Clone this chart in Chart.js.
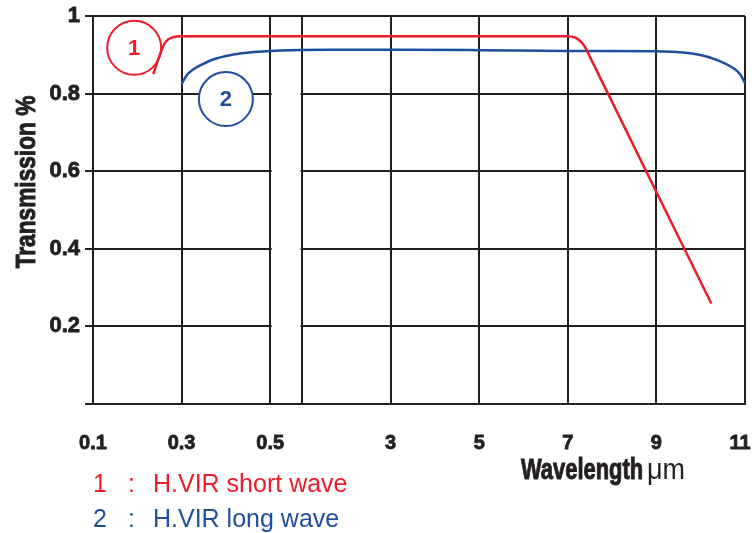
<!DOCTYPE html>
<html>
<head>
<meta charset="utf-8">
<script src="https://cdn.jsdelivr.net/npm/chart.js@4/dist/chart.umd.min.js"></script>
<style>
  html, body { margin: 0; padding: 0; background: #fff; }
  #wrap { width: 752px; height: 533px; }
</style>
</head>
<body>
<div id="wrap"><canvas id="myChart"></canvas></div>
<script>
// x axis: wavelength ticks (um) and the column they sit on (the 0.5 - 1 column is narrow)
var tickWl = [0.1, 0.3, 0.5, 1, 3, 5, 7, 9, 11];
var tickPos = [0, 1, 2, 2.36, 3.36, 4.36, 5.36, 6.36, 7.36];
var tickLabels = ['0.1', '0.3', '0.5', '', '3', '5', '7', '9', '11'];

// curve 1 : H.VIR short wave
var shortWl = [0.236, 0.251, 0.260, 0.269, 0.283, 0.30, 0.5, 3, 5, 6.98, 7.17, 7.30, 7.40, 7.51, 10.24];
var shortT  = [0.850, 0.900, 0.926, 0.939, 0.946, 0.948, 0.948, 0.948, 0.948, 0.948, 0.944, 0.933, 0.918, 0.892, 0.259];

// curve 2 : H.VIR long wave
var longWl = [0.30, 0.312, 0.326, 0.348, 0.371, 0.409, 0.447, 0.653, 1.63, 3.2, 5, 7, 9, 9.59, 9.97, 10.36, 10.73, 10.89, 11];
var longT  = [0.824, 0.848, 0.862, 0.876, 0.888, 0.899, 0.905, 0.911, 0.913, 0.913, 0.912, 0.910, 0.909, 0.906, 0.900, 0.887, 0.866, 0.850, 0.827];

// numbered callouts on the curves (wavelength, transmission)
var calloutNames = ['1', '2'];
var calloutWl = [0.193, 0.40];
var calloutT = [0.918, 0.786];

var legendNames = ['H.VIR short wave', 'H.VIR long wave'];

var RED = '#ec1c2b';
var BLUE = '#1f4f9c';
var INK = '#231f20';
var SANS = "'Liberation Sans', Arial, sans-serif";

function wlToPos(wl) {
    for (var i = 0; i < tickWl.length - 1; i++) {
        if (wl <= tickWl[i + 1]) {
            var f = (wl - tickWl[i]) / (tickWl[i + 1] - tickWl[i]);
            return tickPos[i] + f * (tickPos[i + 1] - tickPos[i]);
        }
    }
    return tickPos[tickPos.length - 1];
}

function toPoints(wls, ts) {
    return wls.map(function (w, i) { return { x: wlToPos(w), y: ts[i] }; });
}

var narrowColumn = {
    id: 'narrowColumn',
    beforeDatasetsDraw: function (chart) {
        var ctx = chart.ctx, xs = chart.scales.x, area = chart.chartArea;
        var x1 = xs.getPixelForValue(tickPos[2]) + 1.5;
        var x2 = xs.getPixelForValue(tickPos[3]) - 1.5;
        ctx.save();
        ctx.fillStyle = '#fff';
        ctx.fillRect(x1, area.top + 1.5, x2 - x1, area.bottom - area.top - 3);
        // callout circles
        var colors = [RED, BLUE];
        for (var i = 0; i < calloutNames.length; i++) {
            var cx = xs.getPixelForValue(wlToPos(calloutWl[i]));
            var cy = chart.scales.y.getPixelForValue(calloutT[i]);
            ctx.beginPath();
            ctx.arc(cx, cy, 27, 0, Math.PI * 2);
            ctx.fillStyle = '#fff';
            ctx.fill();
            ctx.lineWidth = 2;
            ctx.strokeStyle = colors[i];
            ctx.stroke();
            ctx.fillStyle = colors[i];
            ctx.font = 'bold 22px ' + SANS;
            ctx.textAlign = 'center';
            ctx.textBaseline = 'middle';
            ctx.fillText(calloutNames[i], cx, cy + 1);
        }
        ctx.restore();
    }
};

function heavyText(ctx, s, x, y) {
    ctx.lineWidth = 1;
    ctx.strokeStyle = ctx.fillStyle;
    ctx.strokeText(s, x, y);
    ctx.fillText(s, x, y);
}

var texts = {
    id: 'texts',
    afterDraw: function (chart) {
        var ctx = chart.ctx;
        // y title
        ctx.save();
        ctx.fillStyle = INK;
        ctx.translate(35, 182);
        ctx.rotate(-Math.PI / 2);
        ctx.scale(0.81, 1);
        ctx.font = 'bold 28px ' + SANS;
        ctx.textAlign = 'center';
        ctx.textBaseline = 'alphabetic';
        heavyText(ctx, 'Transmission %', 0, 0);
        ctx.restore();

        // x title
        ctx.save();
        ctx.fillStyle = INK;
        ctx.textAlign = 'left';
        ctx.textBaseline = 'alphabetic';
        ctx.translate(521, 479);
        ctx.scale(0.73, 1);
        ctx.font = 'bold 30px ' + SANS;
        heavyText(ctx, 'Wavelength', 0, 0);
        ctx.restore();
        ctx.save();
        ctx.fillStyle = INK;
        ctx.textAlign = 'left';
        ctx.textBaseline = 'alphabetic';
        ctx.translate(647, 479);
        ctx.scale(0.93, 1);
        ctx.font = '29px ' + SANS;
        ctx.fillText('\u03bcm', 0, 0);
        ctx.restore();

        // legend
        ctx.save();
        ctx.font = '25px ' + SANS;
        ctx.textBaseline = 'alphabetic';
        var colors = [RED, BLUE];
        var rows = [492, 527];
        for (var i = 0; i < legendNames.length; i++) {
            ctx.fillStyle = colors[i];
            ctx.fillText(calloutNames[i], 93, rows[i]);
            ctx.fillText(':', 128, rows[i]);
            ctx.fillText(legendNames[i], 153, rows[i]);
        }
        ctx.restore();
    }
};

Chart.defaults.font.family = SANS;
Chart.defaults.color = INK;

var ctx = document.getElementById('myChart');
var myChart = new Chart(ctx, {
    type: 'line',
    data: {
        datasets: [{
            label: legendNames[0],
            data: toPoints(shortWl, shortT),
            borderColor: RED,
            borderWidth: 2.5,
            pointRadius: 0,
            cubicInterpolationMode: 'monotone'
        }, {
            label: legendNames[1],
            data: toPoints(longWl, longT),
            borderColor: BLUE,
            borderWidth: 2.5,
            pointRadius: 0,
            cubicInterpolationMode: 'monotone'
        }]
    },
    options: {
        responsive: true,
        maintainAspectRatio: false,
        animation: false,
        layout: { padding: { top: 16, right: 7, left: 0, bottom: 0 } },
        plugins: { legend: { display: false }, tooltip: { enabled: false } },
        scales: {
            x: {
                type: 'linear',
                min: tickPos[0],
                max: tickPos[tickPos.length - 1],
                afterBuildTicks: function (s) {
                    s.ticks = tickPos.map(function (p) { return { value: p }; });
                },
                afterFit: function (s) {
                    s.height = 129;
                    s.paddingLeft = 0;
                    s.paddingRight = 0;
                },
                grid: { color: INK, lineWidth: 2, drawTicks: false },
                border: { color: INK, width: 2 },
                ticks: {
                    autoSkip: false,
                    maxRotation: 0,
                    padding: 27,
                    font: { size: 20, weight: 'bold' },
                    textStrokeColor: INK,
                    textStrokeWidth: 0.8,
                    callback: function (v, i) {
                        // keep the last label inside the canvas
                        return i === tickLabels.length - 1 ? tickLabels[i] + '\u2002' : tickLabels[i];
                    }
                }
            },
            y: {
                min: 0,
                max: 1,
                afterFit: function (s) {
                    s.width = 93;
                    s.paddingTop = 0;
                    s.paddingBottom = 0;
                },
                grid: { color: INK, lineWidth: 2, drawTicks: true, tickLength: 8 },
                border: { color: INK, width: 2 },
                ticks: {
                    stepSize: 0.2,
                    padding: 5,
                    font: { size: 22, weight: 'bold' },
                    textStrokeColor: INK,
                    textStrokeWidth: 0.8,
                    callback: function (v) {
                        if (v === 0) return '';
                        return String(Math.round(v * 10) / 10);
                    }
                }
            }
        }
    },
    plugins: [narrowColumn, texts]
});
</script>
</body>
</html>
